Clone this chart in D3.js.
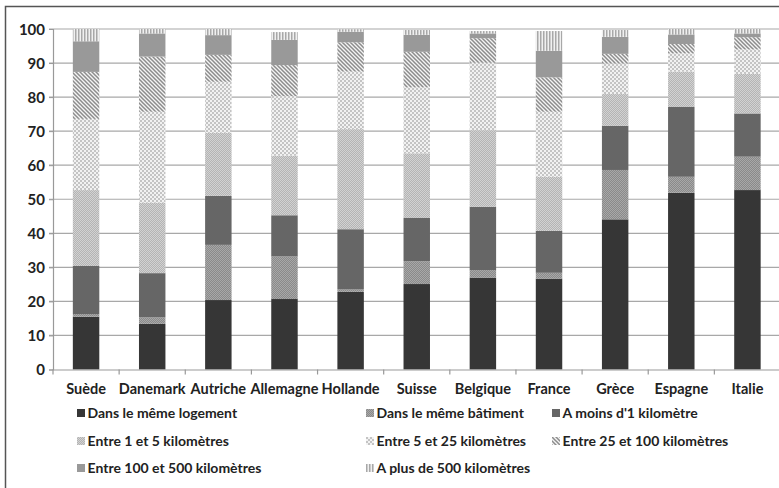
<!DOCTYPE html>
<html>
<head>
<meta charset="utf-8">
<script src="https://cdn.jsdelivr.net/npm/d3@7"></script>
<style>
  html, body { margin: 0; padding: 0; background: #fff; }
  svg { display: block; }
  text { font-family: Lato, "Open Sans", sans-serif; font-weight: 700; fill: #222; }
</style>
</head>
<body>
<svg id="chart" width="779" height="488"></svg>
<script>
// Countries along the x axis
const categories = ["Suède", "Danemark", "Autriche", "Allemagne", "Hollande", "Suisse",
                    "Belgique", "France", "Grèce", "Espagne", "Italie"];

// Share (%) of each distance band, one array per band
const logement  = [15.5, 13.4, 20.4, 20.7, 22.8, 25.1, 27.0, 26.7, 44.1, 51.9, 52.7];
const batiment  = [ 0.8,  1.9, 16.2, 12.5,  0.7,  6.7,  2.2,  1.7, 14.5,  4.7,  9.8];
const moins1    = [14.1, 13.0, 14.4, 12.1, 17.7, 12.8, 18.6, 12.3, 13.0, 20.6, 12.7];
const km1_5     = [22.3, 20.7, 18.5, 17.5, 29.4, 18.9, 22.5, 15.9,  9.3, 10.3, 11.6];
const km5_25    = [20.9, 26.7, 15.0, 17.5, 16.9, 19.4, 19.8, 19.1,  9.0,  5.4,  7.2];
const km25_100  = [13.8, 16.2,  7.9,  9.1,  8.6, 10.4,  7.2, 10.1,  2.8,  2.7,  3.6];
const km100_500 = [ 9.0,  6.8,  5.8,  7.4,  3.1,  5.0,  1.4,  7.8,  5.0,  2.8,  1.1];
const plus500   = [ 3.6,  1.3,  1.8,  2.3,  0.7,  1.4,  0.7,  5.8,  2.0,  1.6,  1.3];

const seriesNames = ["Dans le même logement", "Dans le même bâtiment", "A moins d'1 kilomètre",
                     "Entre 1 et 5 kilomètres", "Entre 5 et 25 kilomètres", "Entre 25 et 100 kilomètres",
                     "Entre 100 et 500 kilomètres", "A plus de 500 kilomètres"];
const seriesValues = [logement, batiment, moins1, km1_5, km5_25, km25_100, km100_500, plus500];

const yTicks = [0, 10, 20, 30, 40, 50, 60, 70, 80, 90, 100];

const svg = d3.select("#chart");

// Fill patterns for the bands
const defs = svg.append("defs");
function checker(id, a, b, s) {
  const p = defs.append("pattern").attr("id", id).attr("patternUnits", "userSpaceOnUse")
    .attr("width", 2 * s).attr("height", 2 * s);
  p.append("rect").attr("width", 2 * s).attr("height", 2 * s).attr("fill", a);
  p.append("rect").attr("width", s).attr("height", s).attr("fill", b);
  p.append("rect").attr("x", s).attr("y", s).attr("width", s).attr("height", s).attr("fill", b);
}
checker("pBat", "#8a8a8a", "#a8a8a8", 1);
checker("p1_5", "#b4b4b4", "#d2d2d2", 1);
checker("p5_25", "#f2f2f2", "#c4c4c4", 2);
// diagonal stripes
(function () {
  const p = defs.append("pattern").attr("id", "p25_100").attr("patternUnits", "userSpaceOnUse")
    .attr("width", 4).attr("height", 4);
  p.append("rect").attr("width", 4).attr("height", 4).attr("fill", "#f4f4f4");
  p.append("path").attr("d", "M-1,-1 L5,5 M-1,3 L1,5 M3,-1 L5,1")
    .attr("stroke", "#8c8c8c").attr("stroke-width", 1.5);
})();
// vertical stripes
(function () {
  const p = defs.append("pattern").attr("id", "p500").attr("patternUnits", "userSpaceOnUse")
    .attr("width", 3).attr("height", 3);
  p.append("rect").attr("width", 3).attr("height", 3).attr("fill", "#f0f0f0");
  p.append("rect").attr("width", 1.5).attr("height", 3).attr("fill", "#a8a8a8");
})();

const fills = ["#363636", "url(#pBat)", "#666666", "url(#p1_5)", "url(#p5_25)",
               "url(#p25_100)", "#999999", "url(#p500)"];

// Outer frame
svg.append("rect").attr("x", 5.5).attr("y", 6.5).attr("width", 800).attr("height", 500)
  .attr("fill", "none").attr("stroke", "#555").attr("stroke-width", 1.5);

const x0 = 53, x1 = 780.5, yTop = 29, yBot = 369.5;

const xTick = d3.scaleBand().domain(categories).range([x0, x1]).padding(0);
const x = d3.scaleBand().domain(categories).range([x0, x1]).paddingInner(0.6).paddingOuter(0.3);
const y = d3.scaleLinear().domain([0, 100]).range([yBot, yTop]);

// Gridlines
svg.append("g").selectAll("line").data(yTicks.filter(d => d > 0)).join("line")
  .attr("x1", x0 - 4).attr("x2", 779).attr("y1", d => y(d)).attr("y2", d => y(d))
  .attr("stroke", "#a8a8a8").attr("stroke-width", 1.2);

// Y axis
const yAxis = svg.append("g").attr("transform", `translate(${x0},0)`)
  .call(d3.axisLeft(y).tickValues(yTicks).tickSize(4).tickPadding(4));
yAxis.select(".domain").attr("stroke", "#999").attr("stroke-width", 1.2);
yAxis.selectAll(".tick line").attr("stroke", "#999");
yAxis.selectAll("text").attr("font-size", 15).attr("font-family", "Lato, sans-serif")
  .attr("font-weight", 700).attr("fill", "#222").attr("dy", "0.35em");

// Stacked bars
const rows = categories.map((c, i) => {
  const r = { cat: c };
  seriesNames.forEach((s, k) => r[s] = seriesValues[k][i]);
  return r;
});
const stacked = d3.stack().keys(seriesNames)(rows);
svg.append("g").selectAll("g").data(stacked).join("g")
  .attr("fill", (d, i) => fills[i])
  .selectAll("rect").data(d => d).join("rect")
  .attr("x", d => x(d.data.cat)).attr("width", x.bandwidth())
  .attr("y", d => y(d[1])).attr("height", d => y(d[0]) - y(d[1]));

// X axis
const xAxis = svg.append("g").attr("transform", `translate(0,${yBot})`)
  .call(d3.axisBottom(xTick).tickSize(0).tickPadding(14));
xAxis.select(".domain").attr("stroke", "#999").attr("stroke-width", 1.2);
xAxis.selectAll("text").attr("font-size", 14.5).attr("font-family", "Lato, sans-serif")
  .attr("font-weight", 700).attr("fill", "#222");
// boundary ticks between categories
svg.append("g").selectAll("line").data(d3.range(categories.length + 1)).join("line")
  .attr("x1", i => x0 + i * xTick.step()).attr("x2", i => x0 + i * xTick.step())
  .attr("y1", yBot).attr("y2", yBot + 5).attr("stroke", "#999").attr("stroke-width", 1.2);

// Legend
const legCols = [77, 366, 552];
const legRows = [413, 441, 468];
const leg = svg.append("g").selectAll("g").data(seriesNames).join("g")
  .attr("transform", (d, i) => `translate(${legCols[i % 3]},${legRows[Math.floor(i / 3)]})`);
leg.append("rect").attr("x", 0).attr("y", -4).attr("width", 8).attr("height", 8)
  .attr("fill", (d, i) => fills[i]);
leg.append("text").attr("x", 10.5).attr("y", 0).attr("dy", "0.35em")
  .attr("font-size", 14).text(d => d);
</script>
</body>
</html>
